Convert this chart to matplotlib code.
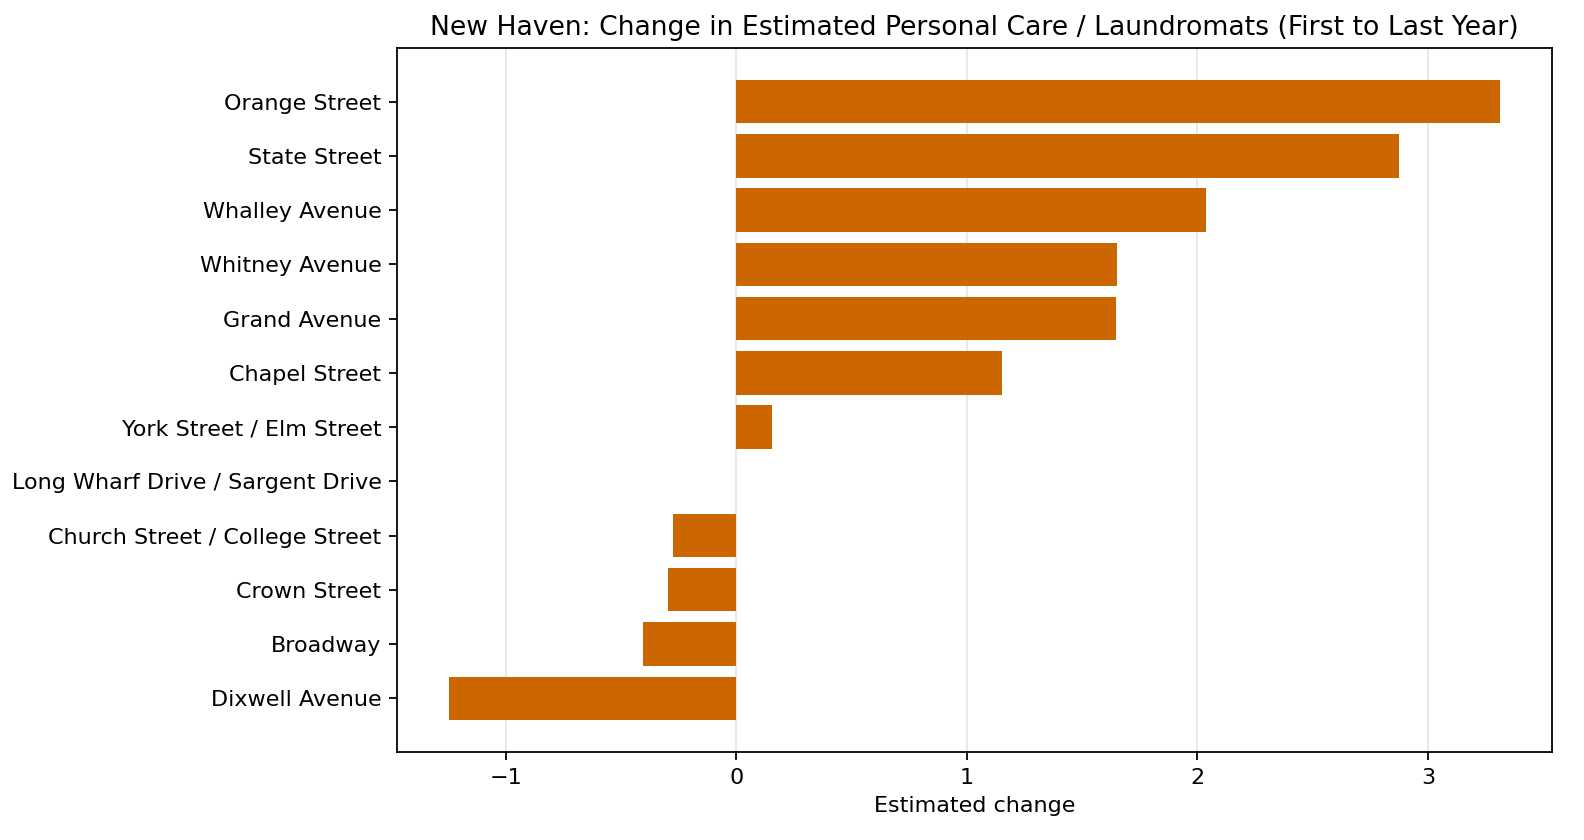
import numpy as np
import matplotlib.pyplot as plt

# corridors, bottom to top
corridors = [
    "Dixwell Avenue",
    "Broadway",
    "Crown Street",
    "Church Street / College Street",
    "Long Wharf Drive / Sargent Drive",
    "York Street / Elm Street",
    "Chapel Street",
    "Grand Avenue",
    "Whitney Avenue",
    "Whalley Avenue",
    "State Street",
    "Orange Street",
]
changes = [-1.244, -0.403, -0.295, -0.273, 0.0, 0.156, 1.153, 1.647, 1.652, 2.037, 2.874, 3.31]

fig, ax = plt.subplots(figsize=(9.9, 5.25), dpi=160)
fig.subplots_adjust(left=0.2506, right=0.9798, top=0.9429, bottom=0.1048)

y = np.arange(len(corridors))
ax.barh(y, changes, color="#cc6600", zorder=3)
ax.set_yticks(y)
ax.set_yticklabels(corridors)
ax.grid(True, axis="x", color="#e6e6e6", linewidth=0.8, zorder=0)
ax.set_xlabel("Estimated change")
ax.set_title("New Haven: Change in Estimated Personal Care / Laundromats (First to Last Year)")

plt.savefig("out.png", dpi=160)
